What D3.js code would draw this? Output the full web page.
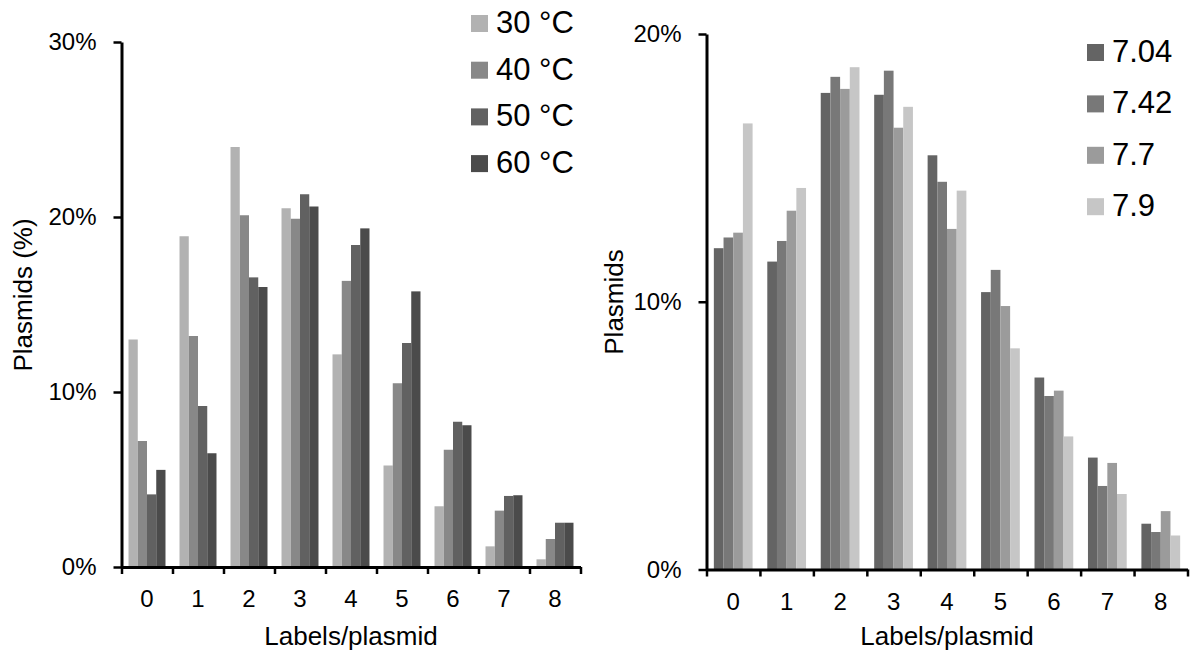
<!DOCTYPE html>
<html>
<head>
<meta charset="utf-8">
<script src="https://cdn.jsdelivr.net/npm/d3@7"></script>
<style>
    body { margin: 0; background: #fff; }
    svg { display: block; font-family: "Liberation Sans", Arial, sans-serif; }
</style>
</head>
<body>
<div id="svg-container"></div>
<script>
const categories = ['0', '1', '2', '3', '4', '5', '6', '7', '8'];

// left panel: temperature series (%)
const tempNames = ['30 °C', '40 °C', '50 °C', '60 °C'];
const temp30 = [13.0, 18.9, 24.0, 20.5, 12.15, 5.8, 3.47, 1.18, 0.44];
const temp40 = [7.2, 13.2, 20.1, 19.9, 16.35, 10.5, 6.7, 3.22, 1.6];
const temp50 = [4.15, 9.2, 16.55, 21.3, 18.4, 12.8, 8.3, 4.06, 2.53];
const temp60 = [5.55, 6.5, 16.0, 20.6, 19.35, 15.75, 8.1, 4.1, 2.53];
const tempColors = ['#b2b2b2', '#888888', '#616161', '#4b4b4b'];
const tempTicks = [0, 10, 20, 30];

// right panel: pH series (%)
const phNames = ['7.04', '7.42', '7.7', '7.9'];
const ph704 = [12.0, 11.5, 17.8, 17.73, 15.47, 10.36, 7.17, 4.18, 1.71];
const ph742 = [12.4, 12.27, 18.4, 18.63, 14.48, 11.19, 6.48, 3.12, 1.40];
const ph77 = [12.58, 13.4, 17.95, 16.5, 12.72, 9.84, 6.68, 3.98, 2.18];
const ph79 = [16.66, 14.25, 18.76, 17.28, 14.15, 8.26, 4.97, 2.82, 1.27];
const phColors = ['#646464', '#787878', '#9b9b9b', '#c6c6c6'];
const phTicks = [0, 10, 20];

const svgWidth = 1192;
const svgHeight = 657;

const svg = d3.select('#svg-container')
    .append('svg')
    .attr('width', svgWidth)
    .attr('height', svgHeight);

function buildPanel(opts) {
    const g = svg.append('g');

    const x = d3.scaleBand()
        .domain(categories)
        .range([opts.left, opts.right])
        .paddingInner(0.275)
        .paddingOuter(0.1375);

    const xSeries = d3.scaleBand()
        .domain(opts.names)
        .range([0, x.bandwidth()]);

    const y = d3.scaleLinear()
        .domain([0, opts.max])
        .range([opts.bottom, opts.top]);

    const rows = categories.map((c, i) => opts.series.map((s, j) => ({ cat: c, name: opts.names[j], value: s[i], color: opts.colors[j] })));

    g.selectAll('.group')
        .data(rows)
        .enter()
        .append('g')
        .attr('transform', (d, i) => `translate(${x(categories[i])}, 0)`)
        .selectAll('rect')
        .data((d) => d)
        .enter()
        .append('rect')
        .attr('x', (d) => xSeries(d.name))
        .attr('y', (d) => y(d.value))
        .attr('width', xSeries.bandwidth())
        .attr('height', (d) => opts.bottom - y(d.value))
        .attr('fill', (d) => d.color);

    // y axis
    const yAxis = g.append('g')
        .attr('transform', `translate(${opts.left}, 0)`)
        .call(d3.axisLeft(y)
            .tickValues(opts.ticks)
            .tickFormat((d) => d + '%')
            .tickSize(8)
            .tickSizeOuter(0)
            .tickPadding(17));
    yAxis.select('.domain').attr('stroke-width', 3);
    yAxis.selectAll('.tick line').attr('stroke-width', 2.5);
    yAxis.selectAll('.tick text').attr('font-size', 24).attr('fill', '#000');

    // x axis with ticks on category boundaries
    const xEdge = d3.scaleLinear()
        .domain([0, categories.length])
        .range([opts.left, opts.right]);
    const xAxis = g.append('g')
        .attr('transform', `translate(0, ${opts.bottom})`)
        .call(d3.axisBottom(xEdge)
            .tickValues(d3.range(categories.length + 1))
            .tickFormat('')
            .tickSize(7)
            .tickSizeOuter(0));
    xAxis.select('.domain').attr('stroke-width', 3);
    xAxis.selectAll('.tick line').attr('stroke-width', 2.5);

    const xLabels = g.append('g')
        .attr('transform', `translate(0, ${opts.bottom})`)
        .call(d3.axisBottom(x).tickSize(0).tickPadding(23));
    xLabels.select('.domain').remove();
    xLabels.selectAll('.tick text').attr('font-size', 24).attr('fill', '#000');

    // axis titles
    g.append('text')
        .attr('x', (opts.left + opts.right) / 2)
        .attr('y', 645)
        .attr('text-anchor', 'middle')
        .attr('font-size', 26)
        .text('Labels/plasmid');

    g.append('text')
        .attr('transform', `translate(${opts.titleX}, ${opts.titleY}) rotate(-90)`)
        .attr('text-anchor', 'middle')
        .attr('font-size', 26)
        .text(opts.yTitle);

    // legend
    const legend = g.selectAll('.legend-item')
        .data(opts.names)
        .enter()
        .append('g')
        .attr('transform', (d, i) => `translate(${opts.legendX}, ${opts.legendY + i * opts.legendStep})`);

    legend.append('rect')
        .attr('width', 17)
        .attr('height', 17)
        .attr('fill', (d, i) => opts.colors[i]);

    legend.append('text')
        .attr('x', 25)
        .attr('y', 18)
        .attr('font-size', 31)
        .text((d) => d);
}

buildPanel({
    left: 121.5, right: 580.5, top: 42, bottom: 567, max: 30,
    series: [temp30, temp40, temp50, temp60],
    names: tempNames, colors: tempColors, ticks: tempTicks,
    yTitle: 'Plasmids (%)', titleX: 32, titleY: 295,
    legendX: 471, legendY: 15, legendStep: 46.7
});

buildPanel({
    left: 706.5, right: 1187.5, top: 34, bottom: 569.5, max: 20,
    series: [ph704, ph742, ph77, ph79],
    names: phNames, colors: phColors, ticks: phTicks,
    yTitle: 'Plasmids', titleX: 623, titleY: 302,
    legendX: 1087, legendY: 44, legendStep: 51.4
});
</script>
</body>
</html>
